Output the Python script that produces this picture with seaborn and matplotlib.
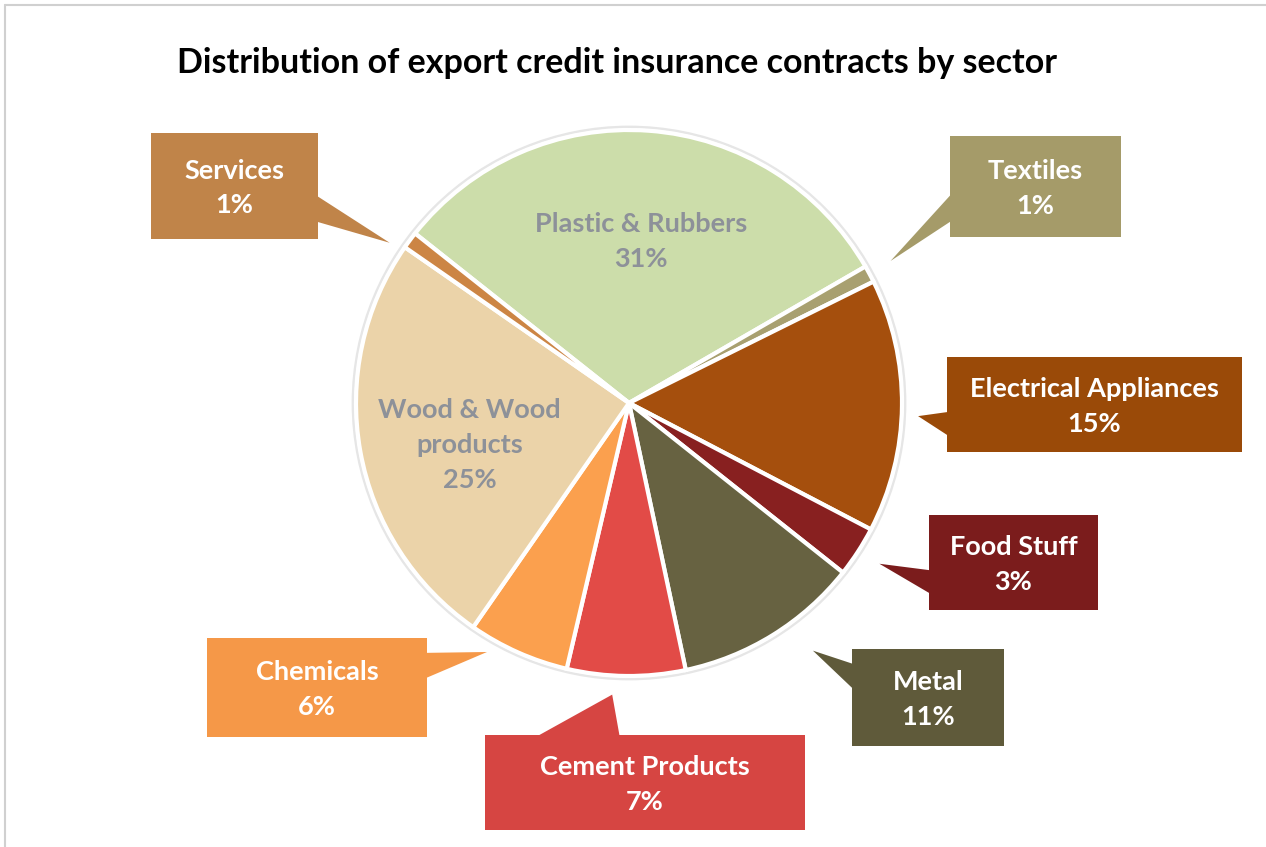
import numpy as np
import matplotlib
matplotlib.use("Agg")
import matplotlib.pyplot as plt
import seaborn as sns
from matplotlib.patches import Rectangle, Polygon, Circle

# chart data (clockwise, starting with the big top slice)
sectors = ["Plastic & Rubbers", "Textiles", "Electrical Appliances", "Food Stuff",
           "Metal", "Cement Products", "Chemicals", "Wood & Wood products", "Services"]
shares = [31, 1, 15, 3, 11, 7, 6, 25, 1]
slice_colors = ["#CCDDAA", "#A8A070", "#A54F0D", "#882020", "#676241",
                "#E24B47", "#FBA04E", "#EBD3A9", "#CC8544"]
box_colors = ["#CCDDAA", "#A59B69", "#9A4A08", "#7B1C1C", "#5F5A3A",
              "#D64542", "#F59848", "#EBD3A9", "#C08449"]
inside_labels = {"Plastic & Rubbers": "Plastic & Rubbers", "Wood & Wood products": "Wood & Wood\nproducts"}

# layout only: inside label pixel nudge (dx, dy down)
inside_nudge = {"Plastic & Rubbers": (0, 2), "Wood & Wood products": (2, 13)}

# callout layout in pixels: box (x0, y0, x1, y1), pointer side, base fraction range,
# pointer tip nudge (degrees clockwise, radius factor)
callouts = {
    "Services": ((151, 133, 318, 239), "right", (0.60, 0.84), (-2.8, 1.055)),
    "Textiles": ((950, 136, 1121, 237), "left", (0.59, 0.85), (-0.3, 1.09)),
    "Electrical Appliances": ((947, 357, 1242, 452), "left", (0.58, 0.82), (2.0, 1.06)),
    "Food Stuff": ((929, 515, 1098, 610), "left", (0.58, 0.82), (-0.3, 1.09)),
    "Metal": ((852, 649, 1004, 746), "left", (0.15, 0.40), (-4.8, 1.13)),
    "Chemicals": ((207, 638, 427, 737), "right", (0.15, 0.40), (5.7, 1.05)),
    "Cement Products": ((485, 735, 805, 830), "top", (0.17, 0.42), (2.7, 1.07)),
}

W, H = 1266, 847
CX, CY, R = 629, 403, 273

sns.set_theme(style="white")
plt.rcParams['font.family'] = ['Lato', 'DejaVu Sans']

fig = plt.figure(figsize=(W / 100, H / 100), dpi=100)
ax = fig.add_axes([0, 0, 1, 1])

def py(y):
    # pixel y (down) -> data y (up)
    return H - y

wedges, _ = ax.pie(shares, colors=slice_colors, startangle=141.6, counterclock=False,
                   center=(CX, py(CY)), radius=R,
                   wedgeprops=dict(edgecolor="white", linewidth=3))
ax.add_patch(Circle((CX, py(CY)), R + 3, facecolor="none", edgecolor="#e6e6e6", lw=2, zorder=0))

fs = 19.5
ls = 1.53
for w, name, val, bc in zip(wedges, sectors, shares, box_colors):
    mid_deg = (w.theta1 + w.theta2) / 2
    if name in inside_labels:
        mid = np.deg2rad(mid_deg)
        ndx, ndy = inside_nudge[name]
        tx = CX + 0.6 * R * np.cos(mid) + ndx
        ty = py(CY) + 0.6 * R * np.sin(mid) - ndy
        ax.text(tx, ty, f"{inside_labels[name]}\n{val}%", ha="center", va="center",
                fontsize=fs, fontweight="bold", color="#8D9199", linespacing=ls)
        continue
    (x0, y0, x1, y1), side, (f0, f1), (dth, rf) = callouts[name]
    ax.add_patch(Rectangle((x0, py(y1)), x1 - x0, y1 - y0, facecolor=bc, edgecolor="none"))
    a = np.deg2rad(mid_deg - dth)
    tip = (CX + rf * R * np.cos(a), py(CY) + rf * R * np.sin(a))
    if side == "left":
        base = [(x0, py(y0 + f0 * (y1 - y0))), (x0, py(y0 + f1 * (y1 - y0)))]
    elif side == "right":
        base = [(x1, py(y0 + f0 * (y1 - y0))), (x1, py(y0 + f1 * (y1 - y0)))]
    else:
        base = [(x0 + f0 * (x1 - x0), py(y0)), (x0 + f1 * (x1 - x0), py(y0))]
    ax.add_patch(Polygon([base[0], tip, base[1]], closed=True, facecolor=bc, edgecolor="none"))
    ax.text((x0 + x1) / 2, py((y0 + y1) / 2 + 2), f"{name}\n{val}%", ha="center", va="center",
            fontsize=fs, fontweight="bold", color="white", linespacing=ls)

ax.text(617, py(63), "Distribution of export credit insurance contracts by sector",
        ha="center", va="center", fontsize=24.5, fontweight="bold", color="black")

# thin frame on the top and left edges
ax.plot([5, W], [py(5), py(5)], color="#d0d0d0", lw=1.5)
ax.plot([5, 5], [py(5), 0], color="#d0d0d0", lw=1.5)

ax.set_xlim(0, W)
ax.set_ylim(0, H)
ax.set_aspect("equal")
ax.axis("off")

fig.savefig("out.png", dpi=100)
